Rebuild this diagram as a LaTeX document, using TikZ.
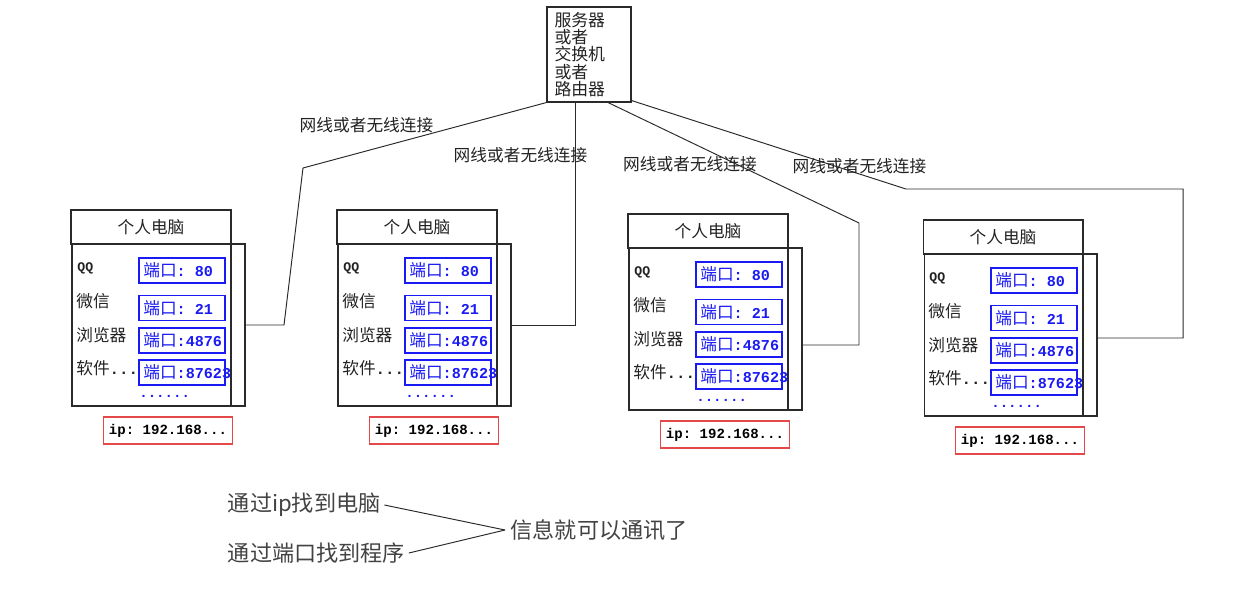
\documentclass[tikz,border=0pt]{standalone}
\usepackage{fontspec}
\setmainfont{Noto Sans CJK SC}
\setmonofont{Liberation Mono}
\usepackage{xcolor}
\usetikzlibrary{positioning}
\definecolor{pcblue}{HTML}{1A1AF5}
\definecolor{pcred}{HTML}{E54848}
\definecolor{pcline}{HTML}{2A2A2A}
\definecolor{pctext}{HTML}{222222}

\begin{document}
\begin{tikzpicture}[x=0.02cm, y=-0.02cm,
      every node/.style={text=pctext, font=\fontsize{9.5pt}{11pt}\selectfont},
      box/.style={rectangle, draw=pcline, line width=0.6pt, inner sep=0pt},
      portbox/.style={rectangle, draw=pcblue, line width=0.6pt, minimum width=1.72cm, minimum height=0.5cm, inner sep=0pt},
      porttext/.style={anchor=west, inner sep=0pt, text=pcblue},
      ipbox/.style={rectangle, draw=pcred, line width=0.6pt, minimum width=2.56cm, minimum height=0.54cm,
        font=\fontsize{8pt}{9pt}\selectfont\ttfamily\bfseries, text=black},
      app/.style={anchor=west, inner sep=0pt},
      wire/.style={draw=pcline, line width=0.55pt},
      big/.style={font=\fontsize{12.6pt}{14pt}\selectfont, text=pctext!85}
    ]
    \useasboundingbox (0,0) rectangle (1240,592);

    % server / switch / router
    \node[box, minimum width=1.68cm, minimum height=1.9cm, text width=1.38cm, align=left,
      font=\fontsize{9.6pt}{9.9pt}\selectfont] (srv) at (589,54.5)
      {服务器\\或者\\交换机\\或者\\路由器};

    % the four computers
    \foreach \i/\dx/\dy in {1/0/0, 2/266/0, 3/557/4, 4/852/10} {
      \begin{scope}[shift={(\dx,\dy)}]
        \node[box, minimum width=3.2cm, minimum height=0.68cm] (c\i-head) at (151,227) {个人电脑};
        \node[box, minimum width=3.18cm, minimum height=3.24cm] (c\i-body) at (151.5,325) {};
        \node[box, minimum width=0.28cm, minimum height=3.24cm] (c\i-side) at (238,325) {};
        \draw[line width=1.1pt, pcline] (c\i-body.north east) -- (c\i-body.south east);

        \node[app, font=\fontsize{7.5pt}{9pt}\selectfont\ttfamily\bfseries] (c\i-qq) at (77,268) {QQ};
        \node[app] (c\i-wx) at (76,301) {微信};
        \node[app] (c\i-br) at (76,335) {浏览器};
        \node[app] (c\i-sw) at (76,368) {软件\texttt{\bfseries\fontsize{9pt}{9pt}\selectfont...}};

        \foreach \j/\py/\pn in {1/270.5/{: 80}, 2/308/{: 21}, 3/340.5/{:4876}, 4/372.5/{:87623}} {
          \node[portbox] (c\i-p\j) at (182,\py) {};
          \node[porttext] (c\i-t\j) at (143,\py)
            {端口{\fontsize{8.6pt}{9pt}\selectfont\ttfamily\bfseries\pn}};
        }
        \node[app, text=pcblue, font=\fontsize{8pt}{9pt}\selectfont\ttfamily\bfseries] (c\i-more) at (139,396) {......};

        \node[ipbox] (c\i-ip) at (168,430.5) {ip: 192.168...};
      \end{scope}
    }

    % cables
    \coordinate (k1a) at (303,168);
    \coordinate (k1b) at (284,325);
    \coordinate (k2)  at (575,325);
    \coordinate (k3a) at (859,223);
    \coordinate (k3b) at (859,345);
    \coordinate (k4a) at (906,189);
    \coordinate (k4b) at (1183,189);
    \coordinate (k4c) at (1183,338);

    \draw[wire] (srv.south west) -- (k1a) -- (k1b) -- (c1-side.east |- k1b);
    \draw[wire] (srv.south -| k2) -- (k2) -- (c2-side.east |- k2);
    \draw[wire] ([xshift=0.38cm]srv.south) -- (k3a) -- (k3b) -- (c3-side.east |- k3b);
    \draw[wire] ([yshift=0.04cm]srv.south east) -- (k4a) -- (k4b) -- (k4c) -- (c4-side.east |- k4c);

    \node (lbl1) at (366.5,125) {网线或者无线连接};
    \node (lbl2) at (520.5,155) {网线或者无线连接};
    \node (lbl3) at (690,164)   {网线或者无线连接};
    \node (lbl4) at (859.5,166) {网线或者无线连接};

    % how the message finds its way
    \node[big, anchor=west, inner sep=2pt] (byip)   at (224,505) {通过ip找到电脑};
    \node[big, anchor=west, inner sep=2pt] (byport) at (224,553) {通过端口找到程序};
    \node[big, anchor=west, inner sep=3pt] (msg)    at (505,530) {信息就可以通讯了};
    \draw[wire] (byip.east) -- (msg.west);
    \draw[wire] (byport.east) -- (msg.west);
  \end{tikzpicture}
\end{document}
